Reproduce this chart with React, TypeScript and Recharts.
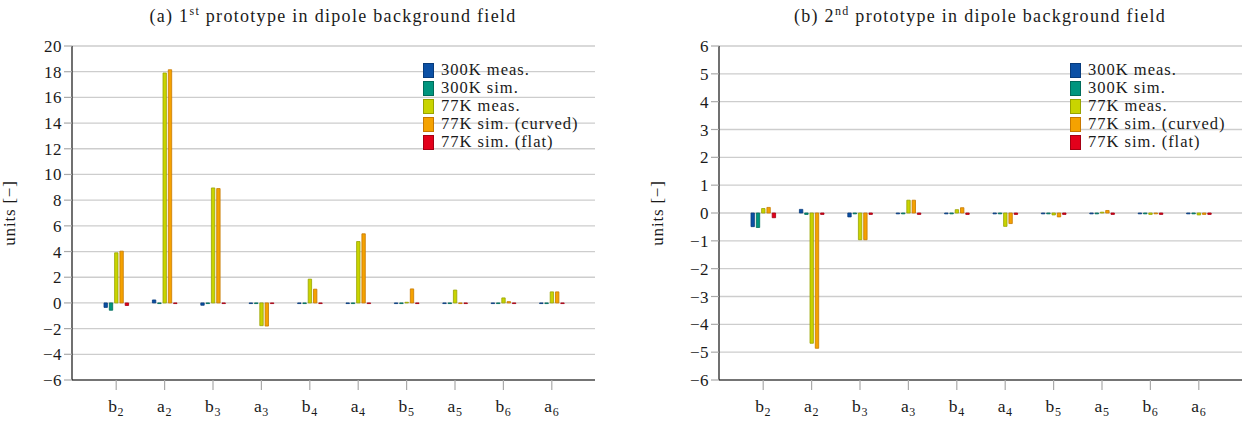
import { BarChart, Bar, XAxis, YAxis, CartesianGrid, Legend } from 'recharts';

const FONT = '"Liberation Serif", "DejaVu Serif", serif';

// harmonic orders shown on the x axis
const harmonics = ['b2', 'a2', 'b3', 'a3', 'b4', 'a4', 'b5', 'a5', 'b6', 'a6'];

// (a) 1st prototype
const p1Meas300K = [-0.35, 0.23, -0.18, -0.05, -0.05, -0.05, -0.05, -0.05, -0.05, -0.05];
const p1Sim300K = [-0.57, -0.05, -0.05, -0.05, -0.05, -0.05, -0.05, -0.05, -0.05, -0.05];
const p1Meas77K = [3.9, 17.9, 8.95, -1.77, 1.85, 4.78, 0.05, 1.0, 0.39, 0.86];
const p1SimCurved77K = [4.03, 18.15, 8.9, -1.8, 1.07, 5.38, 1.09, -0.05, 0.1, 0.86];
const p1SimFlat77K = [-0.2, -0.05, -0.05, -0.05, -0.05, -0.05, -0.05, -0.05, -0.05, -0.05];

// (b) 2nd prototype
const p2Meas300K = [-0.49, 0.13, -0.14, -0.03, -0.03, -0.03, -0.03, -0.03, -0.03, -0.03];
const p2Sim300K = [-0.52, -0.05, -0.03, -0.03, -0.03, -0.03, -0.03, -0.03, -0.03, -0.03];
const p2Meas77K = [0.16, -4.68, -0.96, 0.46, 0.12, -0.48, -0.07, 0.03, -0.05, -0.07];
const p2SimCurved77K = [0.2, -4.86, -0.96, 0.46, 0.19, -0.38, -0.14, 0.09, -0.03, -0.05];
const p2SimFlat77K = [-0.17, -0.05, -0.05, -0.05, -0.05, -0.05, -0.05, -0.05, -0.05, -0.05];

const leftTicks = [-6, -4, -2, 0, 2, 4, 6, 8, 10, 12, 14, 16, 18, 20];
const rightTicks = [-6, -5, -4, -3, -2, -1, 0, 1, 2, 3, 4, 5, 6];

const series = [
  { key: 'meas300', name: '300K meas.', fill: '#0b50a5', stroke: '#073b7c' },
  { key: 'sim300', name: '300K sim.', fill: '#00957e', stroke: '#006b5a' },
  { key: 'meas77', name: '77K meas.', fill: '#c9d400', stroke: '#98a300' },
  { key: 'curved77', name: '77K sim. (curved)', fill: '#f5a200', stroke: '#c67800' },
  { key: 'flat77', name: '77K sim. (flat)', fill: '#e3001b', stroke: '#a50013' },
];

const buildRows = (vals: number[][]) =>
  harmonics.map((h, i) => ({
    name: h,
    meas300: vals[0][i],
    sim300: vals[1][i],
    meas77: vals[2][i],
    curved77: vals[3][i],
    flat77: vals[4][i],
  }));

const proto1 = buildRows([p1Meas300K, p1Sim300K, p1Meas77K, p1SimCurved77K, p1SimFlat77K]);
const proto2 = buildRows([p2Meas300K, p2Sim300K, p2Meas77K, p2SimCurved77K, p2SimFlat77K]);

const minus = (v: number) => String(v).replace('-', '\u2212');

const HarmonicTick = ({ x, y, payload }: any) => {
  const label: string = payload.value;
  return (
    <text x={x} y={y + 20} textAnchor="middle" fontFamily={FONT} fontSize={17.5} letterSpacing={0.6} fill="#1a1a1a">
      <tspan>{label[0]}</tspan>
      <tspan fontSize={12} dy={4}>{label.slice(1)}</tspan>
    </text>
  );
};

const LegendBox = () => (
  <div style={{ fontFamily: FONT, fontSize: 16.5, letterSpacing: 1, color: '#1a1a1a', lineHeight: '18px' }}>
    {series.map((s) => (
      <div key={s.key} style={{ display: 'flex', alignItems: 'center', height: 18 }}>
        <span
          style={{
            display: 'inline-block',
            width: 11,
            height: 15,
            background: s.fill,
            border: `1px solid ${s.stroke}`,
            boxSizing: 'border-box',
            marginRight: 7,
          }}
        />
        <span style={{ whiteSpace: 'nowrap' }}>{s.name}</span>
      </div>
    ))}
  </div>
);

interface PanelProps {
  data: any[];
  ticks: number[];
  domain: [number, number];
  width: number;
  marginLeft: number;
  marginRight: number;
  labelX: number;
  legendLeft: number;
}

function Panel({ data, ticks, domain, width, marginLeft, marginRight, labelX, legendLeft }: PanelProps) {
  return (
    <BarChart
      width={width}
      height={426}
      data={data}
      margin={{ top: 46, right: marginRight, bottom: 16, left: marginLeft }}
      barSize={3.4}
      barGap={1.9}
    >
      <CartesianGrid vertical={false} stroke="#cdcdcd" strokeWidth={1.3} />
      <XAxis
        dataKey="name"
        height={30}
        padding={{ left: 20, right: 19 }}
        axisLine={{ stroke: '#111', strokeWidth: 1.2 }}
        tickLine={{ stroke: '#aaa', strokeWidth: 1.2 }}
        tickSize={10}
        interval={0}
        tick={<HarmonicTick />}
      />
      <YAxis
        width={50}
        domain={domain}
        ticks={ticks}
        interval={0}
        allowDataOverflow
        axisLine={{ stroke: '#111', strokeWidth: 1.2 }}
        tickLine={{ stroke: '#aaa', strokeWidth: 1.2 }}
        tickSize={8}
        tickMargin={2}
        tickFormatter={minus}
        tick={{ fontFamily: FONT, fontSize: 17, letterSpacing: 0.5, fill: '#1a1a1a' }}
        label={{
          content: () => (
            <text
              transform={`translate(${labelX},213) rotate(-90)`}
              textAnchor="middle"
              fontFamily={FONT}
              fontSize={17}
              letterSpacing={0.8}
              fill="#1a1a1a"
            >
              units [{'\u2212'}]
            </text>
          ),
        }}
      />
      <Legend
        layout="vertical"
        align="center"
        verticalAlign="middle"
        wrapperStyle={{ left: legendLeft, top: 61, width: 'auto' }}
        content={<LegendBox />}
      />
      {series.map((s) => (
        <Bar
          key={s.key}
          dataKey={s.key}
          name={s.name}
          fill={s.fill}
          stroke={s.stroke}
          strokeWidth={0.8}
          isAnimationActive={false}
        />
      ))}
    </BarChart>
  );
}

const titleStyle = (center: number): React.CSSProperties => ({
  position: 'absolute',
  top: 4,
  left: center - 250,
  width: 500,
  textAlign: 'center',
  fontFamily: FONT,
  fontSize: 18,
  letterSpacing: 1.3,
  color: '#1a1a1a',
  whiteSpace: 'nowrap',
});

export default function App() {
  return (
    <div style={{ position: 'absolute', left: 0, top: 0, width: 1247, height: 426, background: '#fff', overflow: 'hidden' }}>
      <div style={titleStyle(333)}>
        (a) 1<sup style={{ fontSize: 12 }}>st</sup> prototype in dipole background field
      </div>
      <div style={titleStyle(980)}>
        (b) 2<sup style={{ fontSize: 12 }}>nd</sup> prototype in dipole background field
      </div>
      <div style={{ position: 'absolute', left: 0, top: 0 }}>
        <Panel
          data={proto1}
          ticks={leftTicks}
          domain={[-6, 20]}
          width={620}
          marginLeft={22}
          marginRight={25}
          labelX={15}
          legendLeft={423}
        />
      </div>
      <div style={{ position: 'absolute', left: 640, top: 0 }}>
        <Panel
          data={proto2}
          ticks={rightTicks}
          domain={[-6, 6]}
          width={607}
          marginLeft={29}
          marginRight={5}
          labelX={23}
          legendLeft={430}
        />
      </div>
    </div>
  );
}
